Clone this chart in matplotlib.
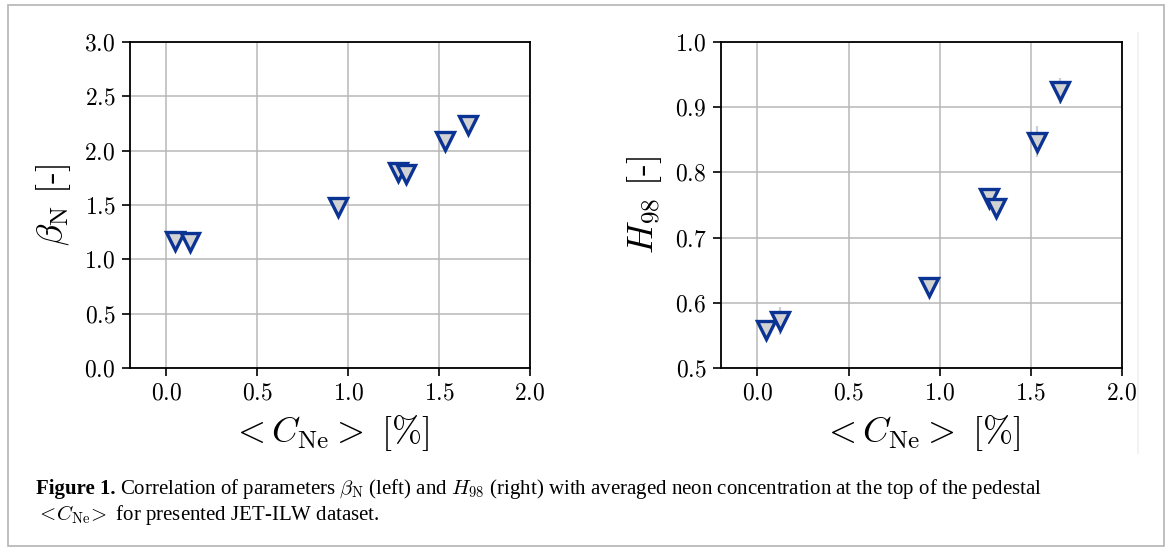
import matplotlib
matplotlib.use("Agg")
import matplotlib.pyplot as plt
from matplotlib.patches import Rectangle
from matplotlib.lines import Line2D

plt.rcParams['mathtext.fontset'] = 'cm'
plt.rcParams['font.family'] = 'cmr10'
plt.rcParams['axes.formatter.use_mathtext'] = True

# averaged neon concentration at the top of the pedestal [%]
c_ne_beta = [0.047, 0.128, 0.942, 1.274, 1.316, 1.535, 1.657]
beta_n = [1.17, 1.16, 1.48, 1.80, 1.79, 2.09, 2.24]

c_ne_h98 = [0.046, 0.124, 0.943, 1.272, 1.312, 1.535, 1.660]
h98 = [0.558, 0.572, 0.624, 0.760, 0.746, 0.847, 0.925]
h98_err = [0.010, 0.022, 0.008, 0.008, 0.008, 0.024, 0.020]

x_ticks = [0.0, 0.5, 1.0, 1.5, 2.0]
beta_ticks = [0.0, 0.5, 1.0, 1.5, 2.0, 2.5, 3.0]
h98_ticks = [0.5, 0.6, 0.7, 0.8, 0.9, 1.0]

edge = '#0b3394'
face = '#d2d2d2'

fig = plt.figure(figsize=(11.68, 5.47), dpi=100)

ax1 = fig.add_axes([0.1113, 0.3272, 0.3425, 0.596])
ax2 = fig.add_axes([0.6173, 0.3272, 0.3431, 0.596])


def style(ax, yticks, ylabel):
    ax.set_xlim(-0.2, 2.0)
    ax.set_xticks(x_ticks)
    ax.set_xticklabels([f'${v:.1f}$' for v in x_ticks])
    ax.set_ylim(yticks[0], yticks[-1])
    ax.set_yticks(yticks)
    ax.set_yticklabels([f'${v:.1f}$' for v in yticks])
    ax.grid(True, color='#b8b8b8', linewidth=1.1)
    ax.set_axisbelow(True)
    for s in ax.spines.values():
        s.set_linewidth(1.3)
        s.set_color('black')
    ax.tick_params(direction='out', length=5.5, width=1.2, labelsize=17,
                   pad=5, colors='black')
    ax.set_xlabel(r'$<C_{\mathrm{Ne}}>\ [\%]$', fontsize=26, labelpad=6)
    ax.set_ylabel(ylabel, fontsize=26, labelpad=8)


marker_style = dict(linestyle='none', marker='v', markersize=13,
                    markerfacecolor=face, markeredgecolor=edge,
                    markeredgewidth=2.4, zorder=3, clip_on=False)

ax1.plot(c_ne_beta, beta_n, **marker_style)
style(ax1, beta_ticks, r'$\beta_{\mathrm{N}}\ [\text{-}]$')

ax2.errorbar(c_ne_h98, h98, yerr=h98_err, fmt='none', ecolor='#c9d0da',
             elinewidth=1.6, zorder=2)
ax2.plot(c_ne_h98, h98, **marker_style)
style(ax2, h98_ticks, r'$H_{98}\ [\text{-}]$')

# outer frame and faint panel edge
fig.add_artist(Rectangle((8 / 1168, 1 - 546 / 547), 1156 / 1168, 541 / 547,
                         transform=fig.transFigure, fill=False,
                         edgecolor='#b4b4b4', linewidth=1.2))
fig.add_artist(Line2D([1138 / 1168, 1138 / 1168], [1 - 453 / 547, 1 - 33 / 547],
                      transform=fig.transFigure, color='#f0f0f0', linewidth=1.2))

# caption
cap_font = 'Liberation Serif'
cap_size = 15
x0 = 36 / 1168
y1 = 1 - 494 / 547
y2 = 1 - 520 / 547
t_bold = fig.text(x0, y1, 'Figure 1.', fontfamily=cap_font, fontweight='bold',
                  fontsize=cap_size, va='baseline')
fig.canvas.draw()
bb = t_bold.get_window_extent()
x_rest = (bb.x1 + 5) / fig.bbox.width
fig.text(x_rest, y1,
         r'Correlation of parameters $\beta_{\mathrm{N}}$ (left) and $H_{98}$ (right) '
         r'with averaged neon concentration at the top of the pedestal',
         fontfamily=cap_font, fontsize=cap_size, va='baseline')
fig.text(x0, y2, r'$<\!C_{\mathrm{Ne}}\!>$ for presented JET-ILW dataset.',
         fontfamily=cap_font, fontsize=cap_size, va='baseline')

fig.savefig('out.png', dpi=100)
